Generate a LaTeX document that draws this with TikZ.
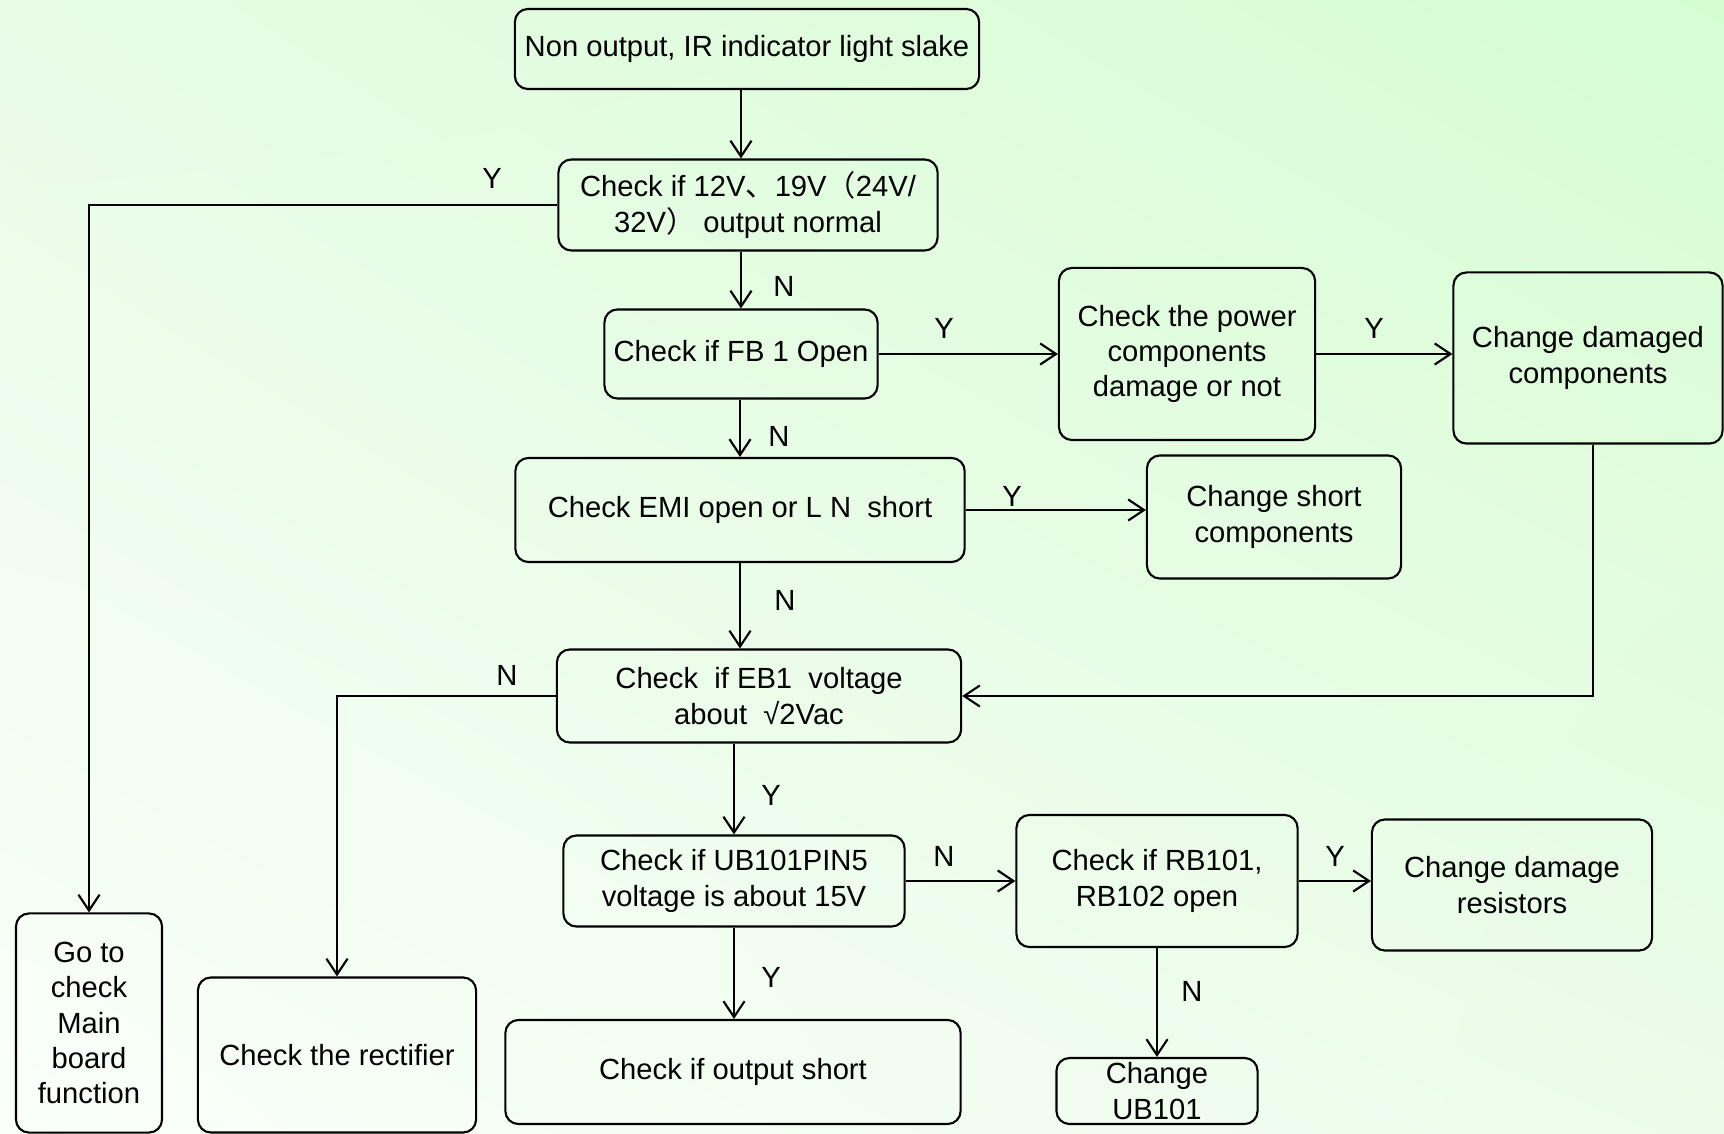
\documentclass[tikz,border=0pt]{standalone}
\usepackage{fontspec}
\setmainfont{Liberation Sans}
\newfontfamily\cjk{Noto Sans CJK SC}
\usetikzlibrary{arrows.meta,shadings}
\definecolor{bgUR}{RGB}{213,253,210}
\definecolor{bgUL}{RGB}{232,252,230}
\definecolor{bgLR}{RGB}{236,252,234}
\definecolor{bgLL}{RGB}{250,255,250}

\begin{document}
\begin{tikzpicture}[x=0.01cm, y=-0.01cm,
    box/.style={draw, rounded corners=0.13cm, line width=0.6pt, align=center, inner sep=0pt, font=\fontsize{8.3}{10}\selectfont},
    arr/.style={-{Straight Barb[length=4.5pt,width=6pt]}, line width=0.6pt},
    lbl/.style={font=\fontsize{8.3}{10}\selectfont}]
    \useasboundingbox (0,0) rectangle (1724,1134);
    \shade[upper right=bgUR, upper left=bgUL, lower right=bgLR, lower left=bgLL] (0,0) rectangle (1724,1134);

    % boxes
    \node[box, minimum width=4.64cm, minimum height=0.80cm] (top) at (747,49) {Non output, IR indicator light slake};
    \node[box, minimum width=3.79cm, minimum height=0.91cm] (chk12) at (748,205) {Check if 12V{\cjk 、}19V{\cjk （}24V/\\32V{\cjk ）} output normal};
    \node[box, minimum width=2.73cm, minimum height=0.89cm] (fb) at (741,354) {Check if FB 1 Open};
    \node[box, minimum width=2.56cm, minimum height=1.72cm] (power) at (1187,354) {Check the power\\components\\damage or not};
    \node[box, minimum width=2.69cm, minimum height=1.71cm] (chgdam) at (1588,358) {Change damaged\\components};
    \node[box, minimum width=4.49cm, minimum height=1.04cm] (emi) at (740,510) {Check EMI open or L N\ \ short};
    \node[box, minimum width=2.54cm, minimum height=1.23cm] (short) at (1274,517) {Change short\\components};
    \node[box, minimum width=4.04cm, minimum height=0.93cm] (eb1) at (759,696) {Check\ \ if EB1\ \ voltage\\about\ \ √2Vac};
    \node[box, minimum width=3.41cm, minimum height=0.91cm] (ub) at (734,881) {Check if UB101PIN5\\voltage is about 15V};
    \node[box, minimum width=2.81cm, minimum height=1.32cm] (rb) at (1157,881) {Check if RB101,\\RB102 open};
    \node[box, minimum width=2.80cm, minimum height=1.31cm] (res) at (1512,885) {Change damage\\resistors};
    \node[box, minimum width=2.01cm, minimum height=0.66cm] (chub) at (1157,1091) {Change\\UB101};
    \node[box, minimum width=4.55cm, minimum height=1.04cm] (outs) at (733,1072) {Check if output short};
    \node[box, minimum width=2.78cm, minimum height=1.55cm] (rect) at (337,1055) {Check the rectifier};
    \node[box, minimum width=1.46cm, minimum height=2.19cm] (goto) at (89,1023) {Go to\\check\\Main\\board\\function};

    % connectors
    \draw[arr] (top.south -| fb.north) -- (fb.north |- chk12.north);
    \draw[arr] (chk12.south -| fb.north) -- (fb.north);
    \draw[arr] (chk12.west) -| (goto.north);
    \draw[arr] (fb.east) -- (fb.east -| power.west);
    \draw[arr] (power.east) -- (power.east -| chgdam.west);
    \draw[arr] (fb.south -| emi.north) -- (emi.north);
    \draw[arr] (emi.east) -- (emi.east -| short.west);
    \draw[arr] (emi.south) -- (emi.south |- eb1.north);
    \draw[arr] ([xshift=0.05cm]chgdam.south) |- (eb1.east);
    \draw[arr] (eb1.west) -| (rect.north);
    \draw[arr] (eb1.south -| ub.north) -- (ub.north);
    \draw[arr] (ub.east) -- (ub.east -| rb.west);
    \draw[arr] (rb.east) -- (rb.east -| res.west);
    \draw[arr] (rb.south) -- (rb.south |- chub.north);
    \draw[arr] (ub.south) -- (ub.south |- outs.north);

    % labels
    \node[lbl] (l1) at (492,178) {Y};
    \node[lbl] (l2) at (784,286) {N};
    \node[lbl] (l3) at (944,328) {Y};
    \node[lbl] (l4) at (1374,328) {Y};
    \node[lbl] (l5) at (779,436) {N};
    \node[lbl] (l6) at (1012,496) {Y};
    \node[lbl] (l7) at (785,600) {N};
    \node[lbl] (l8) at (507,675) {N};
    \node[lbl] (l9) at (771,795) {Y};
    \node[lbl] (l10) at (944,856) {N};
    \node[lbl] (l11) at (1335,856) {Y};
    \node[lbl] (l12) at (1192,991) {N};
    \node[lbl] (l13) at (771,977) {Y};
\end{tikzpicture}
\end{document}
